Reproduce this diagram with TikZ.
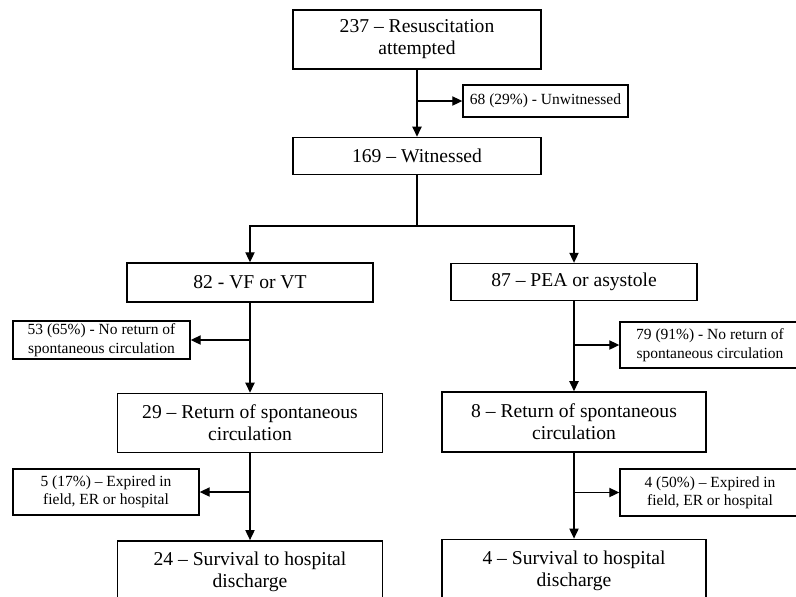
\documentclass[tikz,border=0pt]{standalone}
\usepackage{fontspec}
\setmainfont{Liberation Serif}
\usetikzlibrary{arrows.meta, positioning}

\tikzset{
  bigbox/.style={draw, rectangle, line width=0.7pt, align=center, inner sep=1pt, font=\fontsize{9.8}{11}\selectfont},
  sidebox/.style={draw, rectangle, line width=0.7pt, align=center, inner sep=1pt, font=\fontsize{7.75}{9.2}\selectfont},
  flow/.style={line width=0.65pt, -{Triangle[length=5pt, width=4.6pt]}}
}

\begin{document}
\begin{tikzpicture}[x=0.5pt, y=-0.5pt]
\useasboundingbox (0,0) rectangle (796,596);

% main column
\node[bigbox, minimum width=124pt, minimum height=29.5pt] (start) at (417,39.5) {237 – Resuscitation\\attempted};
\node[bigbox, minimum width=124pt, minimum height=18.5pt, below=33.5pt of start] (wit) {169 – Witnessed};
\node[sidebox, minimum width=82.5pt, minimum height=16pt] (unwit) at (545.5,101) {68 (29\%) - Unwitnessed};
\coordinate[below=25.5pt of wit] (split);

% VF / VT branch
\node[bigbox, minimum width=123pt, minimum height=19.5pt] (vf) at (250,282.5) {82 - VF or VT};
\node[bigbox, minimum width=132.5pt, minimum height=29.5pt, below=45pt of vf] (roscL) {29 – Return of spontaneous\\circulation};
\node[bigbox, minimum width=132.5pt, minimum height=31pt, below=43.5pt of roscL] (survL) {24 – Survival to hospital\\discharge};
\node[sidebox, minimum width=88.5pt, minimum height=19pt] (noroscL) at (101.5,340) {53 (65\%) - No return of\\spontaneous circulation};
\node[sidebox, minimum width=93pt, minimum height=23pt] (deadL) at (106,492) {5 (17\%) – Expired in\\field, ER or hospital};

% PEA / asystole branch
\node[bigbox, minimum width=123pt, minimum height=18.5pt] (pea) at (574,282) {87 – PEA or asystole};
\node[bigbox, minimum width=132pt, minimum height=30pt, below=45pt of pea] (roscR) {8 – Return of spontaneous\\circulation};
\node[bigbox, minimum width=132pt, minimum height=31pt, below=43pt of roscR] (survR) {4 – Survival to hospital\\discharge};
\node[sidebox, minimum width=90pt, minimum height=23pt] (noroscR) at (710,345) {79 (91\%) - No return of\\spontaneous circulation};
\node[sidebox, minimum width=90pt, minimum height=23.5pt] (deadR) at (710,492.5) {4 (50\%) – Expired in\\field, ER or hospital};

% junctions on the vertical lines
\coordinate (j0) at (start.south |- unwit.west);
\coordinate (j1) at (vf.south |- noroscL.east);
\coordinate (j2) at (roscL.south |- deadL.east);
\coordinate (j3) at (pea.south |- noroscR.west);
\coordinate (j4) at (roscR.south |- deadR.west);

% connectors
\draw[flow] (start) -- (wit);
\draw[flow] (j0) -- (unwit);
\draw[line width=0.65pt] (wit) -- (split);
\draw[flow] (split) -| (vf);
\draw[flow] (split) -| (pea);
\draw[flow] (vf) -- (roscL);
\draw[flow] (j1) -- (noroscL);
\draw[flow] (roscL) -- (survL);
\draw[flow] (j2) -- (deadL);
\draw[flow] (pea) -- (roscR);
\draw[flow] (j3) -- (noroscR);
\draw[flow] (roscR) -- (survR);
\draw[flow] (j4) -- (deadR);
\end{tikzpicture}
\end{document}
